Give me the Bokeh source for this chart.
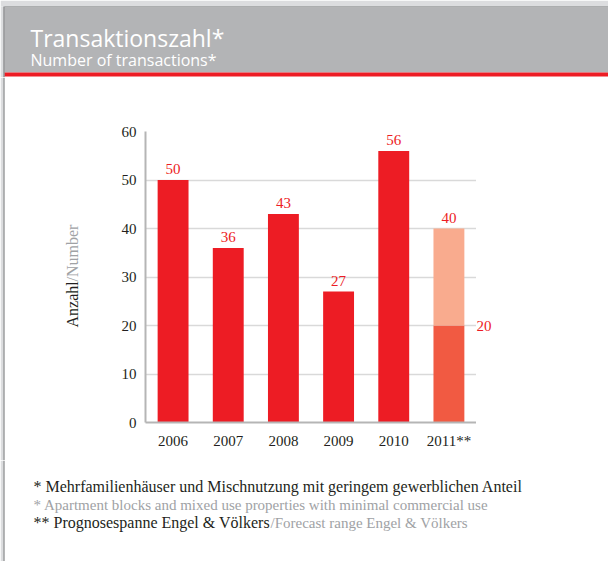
import math
from bokeh.plotting import figure
from bokeh.layouts import row, column
from bokeh.models import ColumnDataSource, FactorRange, Range1d, LabelSet
from bokeh.embed import file_html
from bokeh.resources import INLINE
from bokeh.core.properties import value

# ---- data ----
years = ["2006", "2007", "2008", "2009", "2010", "2011**"]
counts = [50, 36, 43, 27, 56]
forecast_low = 20
forecast_high = 40
y_ticks = [0, 10, 20, 30, 40, 50, 60]

title_de = "Transaktionszahl*"
title_en = "Number of transactions*"
ylabel_de = "Anzahl"
ylabel_en = "/Number"
note1 = "* Mehrfamilienhäuser und Mischnutzung mit geringem gewerblichen Anteil"
note2 = "* Apartment blocks and mixed use properties with minimal commercial use"
note3_de = "** Prognosespanne Engel & Völkers"
note3_en = "/Forecast range Engel & Völkers"

RED = "#ed1c24"
LOW = "#f15a42"
HIGH = "#f9ab8e"
HEAD = "#b3b4b6"
DARK = "#231f20"
GRAY = "#a0a2a5"
EDGE_L = "#dcdddf"
EDGE_D = "#6d6e70"
SERIF = "Liberation Serif"


def bare(w, h, xr, yr):
    f = figure(width=w, height=h, x_range=xr, y_range=yr, x_axis_type=None, y_axis_type=None,
               output_backend="svg", toolbar_location=None, min_border=0)
    f.grid.visible = False
    f.outline_line_color = None
    try:
        f.frame_align = False
    except Exception:
        pass
    return f


def left_edge(f, y0, y1):
    f.quad(left=[0, 3], right=[3, 4], top=[y0, y0], bottom=[y1, y1],
           color=[EDGE_L, EDGE_D], line_color=None)


# ---- header ----
h = bare(608, 77, Range1d(0, 608), Range1d(77, 0))
h.quad(left=[0, 0, 4, 4, 4], right=[608, 4, 608, 608, 608], top=[0, 6, 6, 7, 72],
       bottom=[6, 77, 7, 72, 76], color=[EDGE_L, EDGE_L, EDGE_D, HEAD, RED], line_color=None)
h.quad(left=[3], right=[4], top=[6], bottom=[77], color=EDGE_D, line_color=None)
h.text(x=[30], y=[37], text=[title_de], text_font=value("Open Sans"),
       text_font_size="23px", text_color="white", text_baseline="alphabetic")
h.text(x=[30], y=[59], text=[title_en], text_font=value("Open Sans"),
       text_font_size="16px", text_color="white", text_baseline="alphabetic")

# ---- left panel (y-axis title) ----
MID_H = 383
lp = bare(100, MID_H, Range1d(0, 100), Range1d(0, MID_H))
left_edge(lp, MID_H, 0)
lp.text(x=[72], y=[133], text=[ylabel_de], angle=math.pi / 2, text_align="left",
        text_baseline="middle", text_font=value(SERIF), text_font_size="16px", text_color=DARK)
lp.text(x=[72], y=[179], text=[ylabel_en], angle=math.pi / 2, text_align="left",
        text_baseline="middle", text_font=value(SERIF), text_font_size="16px", text_color=GRAY)

# ---- main chart ----
p = figure(x_range=FactorRange(factors=years, range_padding=0), y_range=Range1d(0, 60),
           width=376, height=MID_H, output_backend="svg", toolbar_location=None,
           min_border_left=45, min_border_right=0, min_border_top=54, min_border_bottom=38)
try:
    p.frame_align = False
except Exception:
    pass
p.outline_line_color = None
p.xgrid.grid_line_color = None
p.ygrid.grid_line_color = "#d9d9d9"
p.ygrid.grid_line_width = 1.5
p.yaxis.ticker = y_ticks

for ax in (p.xaxis[0], p.yaxis[0]):
    ax.axis_line_color = "#b5b5b5"
    ax.axis_line_width = 2
    ax.major_tick_line_color = None
    ax.minor_tick_line_color = None
    ax.major_tick_out = 0
    ax.major_tick_in = 0
    ax.major_label_text_font = SERIF
    ax.major_label_text_font_size = "15px"
    ax.major_label_text_color = DARK
p.yaxis.major_label_standoff = 9
p.xaxis.major_label_standoff = 10

src = ColumnDataSource(dict(x=years[:5], top=counts))
p.vbar(x="x", top="top", width=0.56, source=src, color=RED, line_color=None)
p.vbar(x=[years[5]], bottom=[0], top=[forecast_low], width=0.56, color=LOW, line_color=None)
p.vbar(x=[years[5]], bottom=[forecast_low], top=[forecast_high], width=0.56, color=HIGH, line_color=None)

lsrc = ColumnDataSource(dict(x=years, top=counts + [forecast_high],
                             lab=[str(v) for v in counts] + [str(forecast_high)]))
p.add_layout(LabelSet(x="x", y="top", text="lab", source=lsrc, y_offset=6,
                      text_align="center", text_baseline="alphabetic",
                      text_font=value(SERIF), text_font_size="15px", text_color=RED))

# ---- right panel (forecast low label), same vertical scale as the chart ----
rp = figure(width=132, height=MID_H, x_range=Range1d(0, 132), y_range=Range1d(0, 60),
            x_axis_type=None, y_axis_type=None, output_backend="svg", toolbar_location=None,
            min_border_left=0, min_border_right=0, min_border_top=54, min_border_bottom=38)
try:
    rp.frame_align = False
except Exception:
    pass
rp.grid.visible = False
rp.outline_line_color = None
rp.text(x=[0], y=[forecast_low], text=[str(forecast_low)], text_align="left",
        text_baseline="middle", text_font=value(SERIF), text_font_size="15px", text_color=RED)

# ---- footer ----
FOOT_H = 561 - 77 - MID_H
f = bare(608, FOOT_H, Range1d(0, 608), Range1d(FOOT_H, 0))
left_edge(f, 0, FOOT_H)
f.text(x=[33], y=[26], text=[note1], text_font=value(SERIF), text_font_size="16px",
       text_color=DARK, text_baseline="alphabetic")
f.text(x=[33], y=[44], text=[note2], text_font=value(SERIF), text_font_size="15px",
       text_color=GRAY, text_baseline="alphabetic")
f.text(x=[33], y=[62], text=[note3_de], text_font=value(SERIF), text_font_size="16px",
       text_color=DARK, text_baseline="alphabetic")
f.text(x=[270], y=[62], text=[note3_en], text_font=value(SERIF), text_font_size="15px",
       text_color=GRAY, text_baseline="alphabetic")

layout = column(h, row(lp, p, rp), f)
open("out.html", "w").write(file_html(layout, INLINE))
